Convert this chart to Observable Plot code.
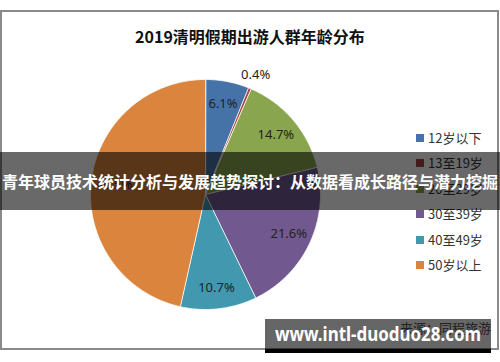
<!DOCTYPE html>
<html><head><meta charset="utf-8">
<script src="https://cdn.jsdelivr.net/npm/d3@7"></script>
<script src="https://cdn.jsdelivr.net/npm/@observablehq/plot@0.6"></script>
<style>
html,body{margin:0;padding:0;background:#fff;}
#wrap{position:relative;width:500px;height:362px;overflow:hidden;font-family:"Noto Sans CJK SC","Noto Sans",sans-serif;}
#frame{position:absolute;left:0;top:10px;width:495px;height:336px;border:2px solid #8a8a8a;}
#title{position:absolute;left:0;width:500px;top:24px;text-align:center;font-size:16px;font-weight:bold;color:#111;}
#legend{position:absolute;left:416px;top:125px;}
.li{height:25.5px;line-height:20px;font-size:13px;color:#333;display:flex;align-items:center;white-space:nowrap;}
.sw{width:8px;height:8px;margin-right:4px;}
#source{position:absolute;left:400px;top:318px;font-size:13px;color:#555;white-space:nowrap;}
#banner{position:absolute;left:0;top:152px;width:500px;height:58px;background:rgba(0,0,0,0.59);color:#fff;font-weight:bold;font-size:16px;line-height:58px;text-align:center;white-space:nowrap;}
#wm{position:absolute;left:265px;top:319px;width:226px;height:30px;background:rgba(0,0,0,0.6);}
#wmt{position:absolute;left:10px;top:0;color:#fff;font-weight:bold;font-size:20px;line-height:30px;white-space:nowrap;font-family:"Noto Sans","Open Sans",sans-serif;transform-origin:0 50%;}
#wmbar{position:absolute;left:265px;top:349px;width:226px;height:4px;background:#000;}
svg{position:absolute;left:0;top:0;}
</style></head>
<body><div id="wrap">
<div id="frame"></div>
<div id="chart"></div>
<div id="title">2019清明假期出游人群年龄分布</div>
<div id="legend"></div>
<div id="source">来源：同程旅游</div>
<div id="banner">青年球员技术统计分析与发展趋势探讨：从数据看成长路径与潜力挖掘</div>
<div id="wm"><span id="wmt">www.intl-duoduo28.com</span></div>
<div id="wmbar"></div>
</div>
<script>
const categories = ["12岁以下","13至19岁","20至29岁","30至39岁","40至49岁","50岁以上"];
const values = [6.1, 0.4, 14.7, 21.6, 10.7, 46.5];
const labels = ["6.1%","0.4%","14.7%","21.6%","10.7%","46.5%"];
const colors = ["#4572A7","#AA4643","#89A54E","#71588F","#4198AF","#DB843D"];
const labelRadius = [0.8, 1.13, 0.8, 0.8, 0.82, 0.8];

const arcs = d3.pie().sort(null).value(d => d)(values);
const pts = [];
arcs.forEach((a, i) => {
  pts.push({cat: categories[i], x: 0, y: 0});
  const n = Math.max(2, Math.ceil((a.endAngle - a.startAngle) / 0.01));
  for (let k = 0; k <= n; k++) {
    const t = a.startAngle + (a.endAngle - a.startAngle) * k / n;
    pts.push({cat: categories[i], x: Math.sin(t), y: Math.cos(t)});
  }
});
const lab = arcs.map((a, i) => {
  const m = (a.startAngle + a.endAngle) / 2;
  return {text: labels[i], x: labelRadius[i] * Math.sin(m), y: labelRadius[i] * Math.cos(m)};
});

const plot = Plot.plot({
  width: 500, height: 362,
  margin: 0,
  x: {domain: [-1, 1], range: [90, 320], axis: null},
  y: {domain: [-1, 1], range: [309, 79], axis: null},
  color: {domain: categories, range: colors},
  marks: [
    Plot.line(pts, {x: "x", y: "y", z: "cat", fill: "cat", stroke: "#fff", strokeWidth: 0.8, curve: "linear-closed"}),
    Plot.text(lab, {x: "x", y: "y", text: "text", fontSize: 13, fill: "#222", fontFamily: "Noto Sans, sans-serif"})
  ]
});
plot.style.background = "transparent";
document.getElementById("chart").appendChild(plot);

const lg = document.getElementById("legend");
categories.forEach((c, i) => {
  const d = document.createElement("div");
  d.className = "li";
  d.innerHTML = `<span class="sw" style="background:${colors[i]}"></span>${c}`;
  lg.appendChild(d);
});

const wmt = document.getElementById("wmt");
const w = wmt.getBoundingClientRect().width;
if (w > 0) wmt.style.transform = `scaleX(${206 / w})`;
</script>
</body></html>
